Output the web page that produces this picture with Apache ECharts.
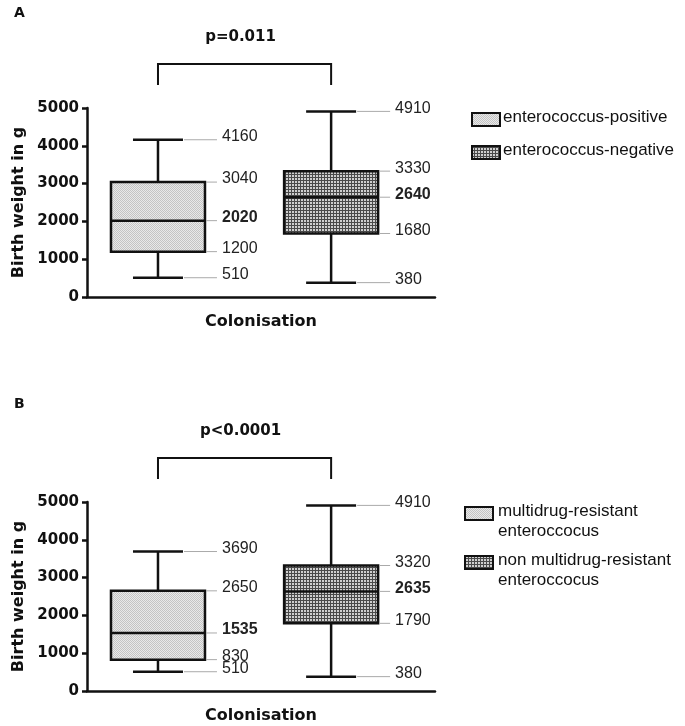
<!DOCTYPE html>
<html>
<head>
<meta charset="utf-8">
<script src="https://cdn.jsdelivr.net/npm/echarts@6/dist/echarts.min.js"></script>
<style>
  html, body { margin: 0; padding: 0; background: #fff; }
  #chart { width: 685px; height: 726px; }
</style>
</head>
<body>
<div id="chart"></div>
<script>
// box stats: [min, q1, median, q3, max]
const groupsA = ['enterococcus-positive', 'enterococcus-negative'];
const posStats = [510, 1200, 2020, 3040, 4160];
const negStats = [380, 1680, 2640, 3330, 4910];

const groupsB = ['multidrug-resistant\nenteroccocus', 'non multidrug-resistant\nenteroccocus'];
const mdrStats = [510, 830, 1535, 2650, 3690];
const nonMdrStats = [380, 1790, 2635, 3320, 4910];

const pValues = ['p=0.011', 'p<0.0001'];
const panelLetters = ['A', 'B'];
const yTicks = { min: 0, max: 5000, interval: 1000 };

// fill patterns (dotted light / gridded dark)
function makePattern(kind) {
  const c = document.createElement('canvas');
  const ctx = c.getContext('2d');
  if (kind === 'light') {
    c.width = 2; c.height = 2;
    ctx.fillStyle = '#e9e9e9'; ctx.fillRect(0, 0, 2, 2);
    ctx.fillStyle = '#c4c4c4'; ctx.fillRect(0, 0, 1, 1); ctx.fillRect(1, 1, 1, 1);
  } else {
    c.width = 3; c.height = 3;
    ctx.fillStyle = '#cfcfcf'; ctx.fillRect(0, 0, 3, 3);
    ctx.fillStyle = '#4a4a4a'; ctx.fillRect(0, 0, 3, 1); ctx.fillRect(0, 0, 1, 3);
  }
  return { image: c, repeat: 'repeat' };
}
const fills = [makePattern('light'), makePattern('dark')];

const INK = '#111';
const boldFont = 'DejaVu Sans';
const plainFont = 'Liberation Sans';

function boxRender(params, api) {
  const idx = api.value(0);
  const v = [api.value(1), api.value(2), api.value(3), api.value(4), api.value(5)];
  const cx = api.coord([idx, 0])[0];
  const y = v.map(function (d) { return api.coord([idx, d])[1]; });
  const hb = 47, hc = 25, lineEnd = 59, txtX = 64;
  const kids = [];
  const lw = 2.5;
  // whiskers
  kids.push({ type: 'line', shape: { x1: cx, y1: y[0], x2: cx, y2: y[1] }, style: { stroke: INK, lineWidth: lw } });
  kids.push({ type: 'line', shape: { x1: cx, y1: y[3], x2: cx, y2: y[4] }, style: { stroke: INK, lineWidth: lw } });
  kids.push({ type: 'line', shape: { x1: cx - hc, y1: y[0], x2: cx + hc, y2: y[0] }, style: { stroke: INK, lineWidth: lw } });
  kids.push({ type: 'line', shape: { x1: cx - hc, y1: y[4], x2: cx + hc, y2: y[4] }, style: { stroke: INK, lineWidth: lw } });
  // box
  kids.push({ type: 'rect', shape: { x: cx - hb, y: y[3], width: hb * 2, height: y[1] - y[3] },
    style: { fill: fills[idx], stroke: INK, lineWidth: lw } });
  kids.push({ type: 'line', shape: { x1: cx - hb, y1: y[2], x2: cx + hb, y2: y[2] }, style: { stroke: INK, lineWidth: lw } });
  // grey leader lines + value labels (median in bold)
  for (let i = 0; i < 5; i++) {
    const start = (i === 0 || i === 4) ? cx + hc : cx + hb;
    kids.push({ type: 'line', shape: { x1: start + 1, y1: y[i], x2: cx + lineEnd, y2: y[i] },
      style: { stroke: '#aaa', lineWidth: 1 } });
    kids.push({ type: 'text', style: {
      text: String(v[i]), x: cx + txtX, y: y[i] - 3,
      fontFamily: plainFont, fontWeight: i === 2 ? 'bold' : 'normal',
      fontSize: 16, fill: '#222', align: 'left', verticalAlign: 'middle' } });
  }
  return { type: 'group', children: kids };
}

function bracketRender(params, api) {
  const x0 = api.coord([api.value(0), yTicks.max])[0];
  const x1 = api.coord([api.value(1), yTicks.max])[0];
  const top = api.coord([0, yTicks.max])[1];
  const yb = top - 44, ye = top - 23;
  return { type: 'group', children: [
    { type: 'polyline', shape: { points: [[x0, ye], [x0, yb], [x1, yb], [x1, ye]] },
      style: { stroke: INK, lineWidth: 2, fill: null } },
    { type: 'text', style: { text: pValues[params.seriesIndex === 1 ? 0 : 1], x: (x0 + x1) / 2 - 4, y: yb - 27,
      fontFamily: boldFont, fontWeight: 'bold', fontSize: 15, fill: INK, align: 'center', verticalAlign: 'middle' } }
  ] };
}

function makeX(gi) {
  return { gridIndex: gi, type: 'value', min: -0.41, max: 1.6,
    axisLine: { show: true, onZero: false, lineStyle: { color: INK, width: 2.5 } },
    axisTick: { show: false }, axisLabel: { show: false }, splitLine: { show: false },
    name: 'Colonisation', nameLocation: 'middle', nameGap: 17,
    nameTextStyle: { fontFamily: boldFont, fontWeight: 'bold', fontSize: 16, color: INK } };
}
function makeY(gi) {
  return { gridIndex: gi, type: 'value', min: yTicks.min, max: yTicks.max, interval: yTicks.interval,
    axisLine: { show: true, onZero: false, lineStyle: { color: INK, width: 2.5 } },
    axisTick: { show: true, length: 5, lineStyle: { color: INK, width: 2.5 } },
    splitLine: { show: false },
    axisLabel: { fontFamily: boldFont, fontWeight: 'bold', fontSize: 15, color: INK, margin: 8,
      formatter: function (val) { return String(val); } },
    name: 'Birth weight in g', nameLocation: 'middle', nameGap: 52,
    nameTextStyle: { fontFamily: boldFont, fontWeight: 'bold', fontSize: 16, color: INK } };
}

function legendItems(names, x0, textX, ys) {
  const out = [];
  names.forEach(function (n, i) {
    const lines = n.split('\n');
    out.push({ type: 'rect', shape: { x: x0, y: ys[i] - 6, width: 28, height: 13 },
      style: { fill: fills[i], stroke: INK, lineWidth: 2 } });
    lines.forEach(function (ln, j) {
      out.push({ type: 'text', left: textX, top: ys[i] - 10 + j * 20,
        style: { text: ln, fontFamily: plainFont, fontSize: 17, fill: INK } });
    });
  });
  return out;
}

const chart = echarts.init(document.getElementById('chart'), null, { renderer: 'canvas' });
chart.setOption({
  backgroundColor: '#fff',
  animation: false,
  grid: [
    { left: 87, top: 108, width: 348, height: 189 },
    { left: 87, top: 502, width: 348, height: 189 }
  ],
  xAxis: [makeX(0), makeX(1)],
  yAxis: [makeY(0), makeY(1)],
  series: [
    { type: 'custom', xAxisIndex: 0, yAxisIndex: 0, renderItem: boxRender, clip: false,
      data: [[0].concat(posStats), [1].concat(negStats)] },
    { type: 'custom', xAxisIndex: 0, yAxisIndex: 0, renderItem: bracketRender, clip: false, data: [[0, 1]] },
    { type: 'custom', xAxisIndex: 1, yAxisIndex: 1, renderItem: boxRender, clip: false,
      data: [[0].concat(mdrStats), [1].concat(nonMdrStats)] },
    { type: 'custom', xAxisIndex: 1, yAxisIndex: 1, renderItem: bracketRender, clip: false, data: [[0, 1]] }
  ],
  graphic: [
    { type: 'text', left: 14, top: 6, style: { text: panelLetters[0], fontFamily: boldFont, fontWeight: 'bold', fontSize: 14, fill: INK } },
    { type: 'text', left: 14, top: 397, style: { text: panelLetters[1], fontFamily: boldFont, fontWeight: 'bold', fontSize: 14, fill: INK } }
  ].concat(legendItems(groupsA, 472, 503, [119, 152]))
   .concat(legendItems(groupsB, 465, 498, [513, 562]))
});
</script>
</body>
</html>
